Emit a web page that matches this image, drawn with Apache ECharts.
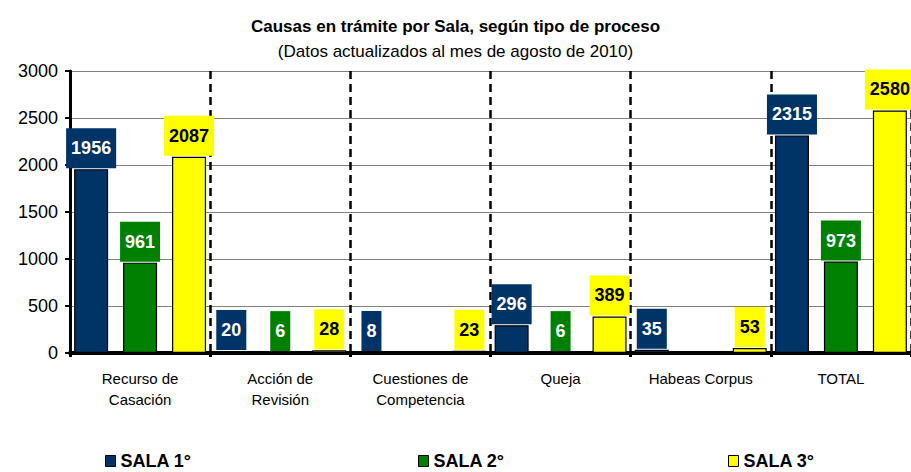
<!DOCTYPE html>
<html>
<head>
<meta charset="utf-8">
<script src="https://cdn.jsdelivr.net/npm/echarts@6/dist/echarts.min.js"></script>
<style>
  html, body { margin: 0; padding: 0; background: #fff; }
  #chart { width: 911px; height: 472px; }
</style>
</head>
<body>
<div id="chart"></div>
<script>
// datos
const categorias = ["Recurso de\nCasación", "Acción de\nRevisión", "Cuestiones de\nCompetencia", "Queja", "Habeas Corpus", "TOTAL"];
const sala1 = [1956, 20, 8, 296, 35, 2315];
const sala2 = [961, 6, "-", 6, "-", 973];
const sala3 = [2087, 28, 23, 389, 53, 2580];
const nombres = ["SALA 1°", "SALA 2°", "SALA 3°"];
const colores = ["#003366", "#008000", "#FFFF00"];
const coloresTexto = ["#fff", "#fff", "#000"];
const ticksY = [0, 3000, 500];

const fuente = "Liberation Sans, Arial, sans-serif";

function serie(i, datos) {
    return {
        name: nombres[i],
        type: "bar",
        data: datos,
        barWidth: 34,
        barGap: "44%",
        itemStyle: { color: colores[i], borderColor: "#000", borderWidth: 1.2 },
        label: {
            show: true,
            position: "top",
            distance: 1,
            color: coloresTexto[i],
            backgroundColor: colores[i],
            fontFamily: fuente,
            fontWeight: "bold",
            fontSize: 18,
            lineHeight: 18,
            padding: [11, 5, 11, 5]
        },
        animation: false
    };
}

// una leyenda por sala, separadas como en el original
const posLeyenda = [105, 418, 728];
const leyendas = nombres.map((n, i) => ({
    data: [n],
    left: posLeyenda[i],
    top: 452,
    padding: 0,
    icon: "rect",
    itemWidth: 10,
    itemHeight: 11,
    itemStyle: { borderColor: "#000", borderWidth: 1 },
    textStyle: { fontFamily: fuente, fontWeight: "bold", fontSize: 18, color: "#000" }
}));

const chart = echarts.init(document.getElementById("chart"), null, { renderer: "svg" });
chart.setOption({
    backgroundColor: "#fff",
    title: [
        {
            text: "Causas en trámite por Sala, según tipo de proceso",
            left: "center",
            top: 13,
            textStyle: { fontFamily: fuente, fontWeight: "bold", fontSize: 17, color: "#000" }
        },
        {
            text: "(Datos actualizados al mes de agosto de 2010)",
            left: "center",
            top: 38,
            textStyle: { fontFamily: fuente, fontWeight: "normal", fontSize: 17, color: "#000" }
        }
    ],
    legend: leyendas,
    grid: { left: 70, right: -2, top: 71, bottom: 119 },
    xAxis: {
        type: "category",
        data: categorias,
        axisLine: { lineStyle: { color: "#000", width: 4 } },
        axisTick: { show: true, length: 4, lineStyle: { color: "#000", width: 3 } },
        axisLabel: { fontFamily: fuente, fontSize: 15, color: "#000", lineHeight: 21, margin: 15 },
        splitLine: { show: true, lineStyle: { color: "#000", width: 2.5, type: [8, 5] } }
    },
    yAxis: {
        type: "value",
        min: ticksY[0],
        max: ticksY[1],
        interval: ticksY[2],
        axisLine: { show: true, lineStyle: { color: "#000", width: 3 } },
        axisTick: { show: true, length: 5, lineStyle: { color: "#000", width: 2 } },
        axisLabel: { fontFamily: fuente, fontSize: 18, color: "#000", margin: 12, formatter: v => String(v) },
        splitLine: { lineStyle: { color: "#808080", width: 1 } }
    },
    series: [serie(0, sala1), serie(1, sala2), serie(2, sala3)]
});
</script>
</body>
</html>
